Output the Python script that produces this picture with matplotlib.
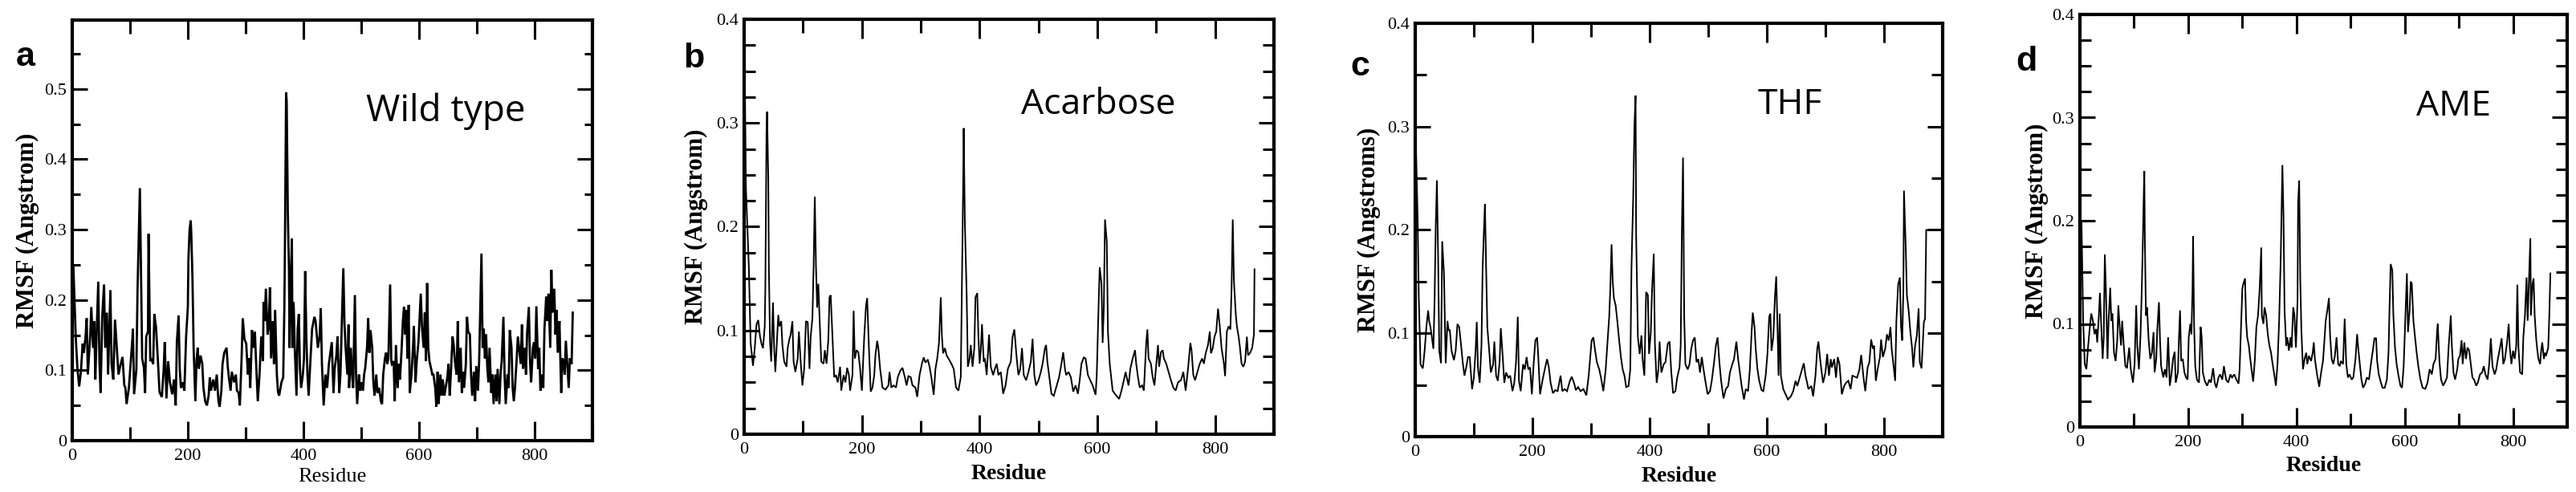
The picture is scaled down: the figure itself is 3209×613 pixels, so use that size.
import matplotlib
matplotlib.use("Agg")
import matplotlib.pyplot as plt
from matplotlib.ticker import MultipleLocator, FuncFormatter

plt.rcParams["font.family"] = "Liberation Serif"

W, H, DPI = 3209, 613, 100

# (residue, RMSF in Angstrom)
wild_type = [
    (2, 0.247), (6, 0.148), (9, 0.102), (12, 0.077), (15, 0.098), (18, 0.138), (20, 0.125),
    (23, 0.148), (25, 0.174), (27, 0.094), (31, 0.148), (33, 0.190), (36, 0.132), (38, 0.170),
    (40, 0.087), (42, 0.148), (45, 0.226), (47, 0.113), (49, 0.068), (52, 0.178), (55, 0.222),
    (57, 0.132), (60, 0.182), (62, 0.094), (66, 0.214), (68, 0.109), (71, 0.087), (74, 0.172),
    (77, 0.132), (80, 0.094), (83, 0.106), (87, 0.119), (90, 0.079), (92, 0.075), (94, 0.052),
    (98, 0.075), (101, 0.109), (104, 0.144), (105, 0.159), (107, 0.066), (111, 0.102),
    (113, 0.216), (115, 0.285), (117, 0.359), (119, 0.235), (121, 0.117), (124, 0.104),
    (126, 0.068), (128, 0.148), (131, 0.155), (132, 0.294), (135, 0.113), (137, 0.117),
    (140, 0.109), (142, 0.180), (145, 0.161), (148, 0.117), (151, 0.069), (155, 0.062),
    (158, 0.098), (160, 0.140), (163, 0.060), (166, 0.113), (169, 0.083), (173, 0.066),
    (176, 0.087), (179, 0.050), (181, 0.140), (184, 0.178), (186, 0.102), (188, 0.075),
    (191, 0.083), (194, 0.071), (197, 0.148), (200, 0.190), (201, 0.258), (203, 0.300),
    (205, 0.313), (206, 0.293), (208, 0.231), (210, 0.132), (213, 0.056), (215, 0.113),
    (217, 0.132), (219, 0.102), (222, 0.121), (225, 0.109), (227, 0.075), (230, 0.056),
    (233, 0.050), (236, 0.064), (238, 0.090), (240, 0.071), (244, 0.087), (247, 0.071),
    (250, 0.094), (253, 0.056), (255, 0.048), (258, 0.071), (260, 0.109), (263, 0.125),
    (267, 0.132), (269, 0.106), (271, 0.090), (274, 0.071), (276, 0.098), (280, 0.083),
    (283, 0.094), (285, 0.071), (288, 0.068), (290, 0.050), (293, 0.117), (295, 0.174),
    (298, 0.144), (301, 0.138), (304, 0.094), (306, 0.117), (308, 0.075), (311, 0.157),
    (313, 0.132), (316, 0.155), (318, 0.113), (321, 0.056), (324, 0.094), (327, 0.148),
    (330, 0.113), (331, 0.197), (333, 0.170), (335, 0.216), (338, 0.151), (340, 0.163),
    (342, 0.218), (344, 0.117), (347, 0.170), (349, 0.109), (351, 0.186), (354, 0.094),
    (356, 0.069), (358, 0.064), (362, 0.083), (365, 0.090), (367, 0.190), (368, 0.277),
    (369, 0.384), (370, 0.495), (371, 0.483), (373, 0.323), (375, 0.243), (376, 0.132),
    (378, 0.220), (380, 0.287), (381, 0.132), (383, 0.197), (385, 0.132), (388, 0.064),
    (390, 0.159), (392, 0.180), (394, 0.102), (396, 0.075), (399, 0.094), (401, 0.117),
    (403, 0.241), (405, 0.148), (407, 0.094), (409, 0.064), (412, 0.113), (415, 0.159),
    (419, 0.176), (421, 0.170), (423, 0.151), (425, 0.132), (428, 0.148), (430, 0.188),
    (432, 0.109), (435, 0.050), (438, 0.094), (441, 0.075), (444, 0.109),
    (449, 0.140), (452, 0.068), (454, 0.102), (457, 0.121), (459, 0.148), (462, 0.068),
    (464, 0.094), (466, 0.155), (469, 0.245), (471, 0.167), (473, 0.132), (476, 0.094),
    (478, 0.165), (479, 0.075), (482, 0.132), (484, 0.094), (486, 0.075), (489, 0.207),
    (491, 0.094), (493, 0.052), (496, 0.094), (498, 0.071), (500, 0.083), (503, 0.071),
    (505, 0.094), (507, 0.104), (510, 0.132), (512, 0.174), (514, 0.125), (516, 0.157),
    (519, 0.132), (521, 0.083), (523, 0.064), (526, 0.094), (528, 0.068), (531, 0.075),
    (534, 0.056), (536, 0.052), (538, 0.094), (541, 0.117), (543, 0.125), (545, 0.109),
    (547, 0.117), (550, 0.222), (552, 0.113), (553, 0.109), (556, 0.113), (558, 0.056),
    (560, 0.136), (563, 0.075), (565, 0.109), (567, 0.087), (570, 0.132), (572, 0.170),
    (574, 0.190), (576, 0.151), (578, 0.186), (580, 0.117), (582, 0.193), (584, 0.068),
    (587, 0.094), (590, 0.140), (591, 0.163), (594, 0.083), (596, 0.113), (599, 0.140),
    (601, 0.174), (603, 0.209), (605, 0.163), (608, 0.132), (610, 0.182), (612, 0.113),
    (614, 0.224), (616, 0.132), (618, 0.113), (621, 0.102), (623, 0.094), (625, 0.094),
    (628, 0.075), (630, 0.048), (632, 0.098), (634, 0.052), (637, 0.094), (639, 0.064),
    (641, 0.087), (644, 0.064), (646, 0.075), (649, 0.090), (651, 0.109), (653, 0.064),
    (655, 0.094), (658, 0.148), (660, 0.136), (662, 0.113), (665, 0.094), (667, 0.170),
    (669, 0.083), (672, 0.132), (674, 0.068), (676, 0.098), (678, 0.075), (681, 0.109),
    (683, 0.176), (685, 0.155), (688, 0.151), (690, 0.094), (692, 0.064), (695, 0.098),
    (697, 0.056), (699, 0.106), (702, 0.071), (704, 0.113), (706, 0.188), (708, 0.266),
    (710, 0.132), (712, 0.159), (714, 0.117), (716, 0.151), (718, 0.106), (720, 0.083),
    (722, 0.132), (725, 0.068), (727, 0.094), (729, 0.052), (732, 0.094), (734, 0.056),
    (736, 0.102), (739, 0.052), (741, 0.094), (743, 0.113), (746, 0.176), (748, 0.094),
    (750, 0.052), (753, 0.094), (755, 0.075), (757, 0.157), (760, 0.132), (762, 0.075),
    (764, 0.056), (766, 0.075), (769, 0.117), (771, 0.148), (773, 0.132), (776, 0.109),
    (778, 0.165), (780, 0.102), (783, 0.132), (785, 0.094), (787, 0.153), (790, 0.190),
    (792, 0.113), (794, 0.083), (797, 0.132), (799, 0.140), (801, 0.117), (803, 0.191),
    (806, 0.102), (808, 0.132), (810, 0.071), (813, 0.094), (815, 0.075), (817, 0.159),
    (820, 0.205), (822, 0.170), (824, 0.209), (827, 0.132), (829, 0.243), (831, 0.182),
    (834, 0.216), (836, 0.151), (838, 0.186), (840, 0.125), (843, 0.170), (844, 0.132),
    (846, 0.068), (848, 0.117), (850, 0.113), (852, 0.094), (854, 0.142), (857, 0.102),
    (859, 0.075), (861, 0.117), (864, 0.109), (866, 0.182),
]

acarbose = [
    (1, 0.350), (3, 0.238), (8, 0.161), (11, 0.088), (15, 0.066), (18, 0.083), (21, 0.106),
    (24, 0.110), (27, 0.094), (30, 0.086), (32, 0.083), (35, 0.104), (36, 0.140), (38, 0.292),
    (39, 0.311), (41, 0.246), (42, 0.161), (44, 0.088), (46, 0.070), (49, 0.127), (51, 0.083),
    (53, 0.060), (56, 0.094), (58, 0.115), (60, 0.104), (63, 0.109), (65, 0.086), (68, 0.070),
    (72, 0.065), (74, 0.083), (77, 0.092), (79, 0.096), (82, 0.109), (84, 0.070), (87, 0.060),
    (91, 0.073), (93, 0.099), (96, 0.070), (99, 0.047), (102, 0.063), (105, 0.109),
    (108, 0.108), (111, 0.063), (113, 0.094), (116, 0.112), (118, 0.161), (120, 0.229),
    (122, 0.163), (124, 0.122), (126, 0.145), (128, 0.114), (131, 0.070), (135, 0.068),
    (137, 0.081), (140, 0.068), (143, 0.091), (145, 0.132), (147, 0.134), (150, 0.094),
    (153, 0.055), (156, 0.057), (159, 0.050), (163, 0.065), (165, 0.042), (169, 0.057),
    (172, 0.050), (175, 0.064), (178, 0.057), (180, 0.042), (184, 0.057), (186, 0.119),
    (188, 0.073), (191, 0.081), (194, 0.079), (197, 0.063), (200, 0.042), (202, 0.068),
    (204, 0.094), (207, 0.124), (209, 0.131), (212, 0.083), (215, 0.041), (218, 0.045),
    (221, 0.057), (223, 0.076), (226, 0.090), (228, 0.083), (231, 0.063), (235, 0.045),
    (240, 0.043), (245, 0.047), (247, 0.060), (250, 0.045), (254, 0.047), (258, 0.045),
    (261, 0.055), (265, 0.061), (269, 0.064), (273, 0.055), (276, 0.047), (279, 0.056),
    (283, 0.055), (286, 0.047), (291, 0.045), (294, 0.036), (298, 0.057), (302, 0.068),
    (305, 0.074), (308, 0.069), (312, 0.072), (315, 0.065), (318, 0.055), (322, 0.038),
    (325, 0.063), (328, 0.073), (331, 0.088), (334, 0.132), (336, 0.094), (338, 0.078),
    (341, 0.083), (344, 0.076), (347, 0.073), (352, 0.068), (356, 0.063), (360, 0.045),
    (364, 0.042), (368, 0.055), (370, 0.148), (372, 0.238), (373, 0.295), (375, 0.202),
    (378, 0.135), (380, 0.065), (383, 0.073), (385, 0.086), (388, 0.065), (391, 0.083),
    (393, 0.132), (396, 0.136), (398, 0.094), (400, 0.068), (402, 0.081), (404, 0.106),
    (407, 0.070), (409, 0.073), (412, 0.057), (416, 0.096), (419, 0.065), (423, 0.057),
    (426, 0.063), (429, 0.068), (432, 0.057), (436, 0.060), (440, 0.039), (444, 0.047),
    (448, 0.063), (453, 0.070), (456, 0.094), (459, 0.101), (463, 0.073), (466, 0.057),
    (469, 0.063), (472, 0.083), (475, 0.057), (479, 0.052), (483, 0.060), (487, 0.070),
    (490, 0.092), (493, 0.057), (496, 0.047), (500, 0.052), (504, 0.060), (507, 0.068),
    (511, 0.083), (513, 0.086), (515, 0.070), (518, 0.057), (522, 0.039), (526, 0.037),
    (531, 0.047), (535, 0.055), (539, 0.068), (542, 0.079), (545, 0.063), (547, 0.057),
    (551, 0.060), (555, 0.055), (559, 0.041), (563, 0.047), (567, 0.039), (570, 0.052),
    (573, 0.068), (577, 0.074), (580, 0.073), (584, 0.057), (588, 0.052), (592, 0.047),
    (597, 0.038), (599, 0.057), (602, 0.122), (604, 0.161), (607, 0.145), (609, 0.088),
    (611, 0.122), (613, 0.207), (616, 0.186), (618, 0.099), (621, 0.068), (626, 0.042),
    (631, 0.038), (637, 0.034), (641, 0.042), (645, 0.052), (648, 0.060), (653, 0.047),
    (656, 0.063), (660, 0.073), (664, 0.081), (666, 0.068), (669, 0.055), (672, 0.045),
    (676, 0.047), (679, 0.042), (683, 0.088), (685, 0.101), (687, 0.073), (691, 0.068),
    (694, 0.055), (697, 0.047), (701, 0.073), (703, 0.086), (705, 0.065), (708, 0.079),
    (711, 0.081), (713, 0.073), (717, 0.068), (721, 0.060), (725, 0.052), (729, 0.045),
    (733, 0.042), (737, 0.050), (742, 0.052), (746, 0.060), (750, 0.042), (754, 0.063),
    (758, 0.088), (760, 0.081), (763, 0.057), (766, 0.052), (770, 0.060), (774, 0.068),
    (778, 0.073), (781, 0.068), (784, 0.078), (788, 0.086), (791, 0.099), (793, 0.078),
    (796, 0.083), (799, 0.094), (802, 0.099), (805, 0.121), (808, 0.104), (811, 0.083),
    (815, 0.068), (817, 0.056), (820, 0.099), (823, 0.104), (826, 0.101), (828, 0.140),
    (830, 0.207), (832, 0.148), (835, 0.117), (837, 0.104), (840, 0.094), (842, 0.085),
    (845, 0.068), (848, 0.065), (851, 0.070), (854, 0.094), (856, 0.076), (859, 0.078),
    (863, 0.083), (866, 0.096), (867, 0.159),
]

thf = [
    (1, 0.285), (4, 0.215), (6, 0.137), (9, 0.070), (13, 0.066), (16, 0.083), (19, 0.106),
    (22, 0.122), (24, 0.111), (26, 0.106), (28, 0.098), (31, 0.085), (33, 0.132), (35, 0.204),
    (37, 0.248), (39, 0.176), (41, 0.083), (44, 0.071), (46, 0.189), (49, 0.158), (52, 0.071),
    (55, 0.112), (57, 0.103), (59, 0.103), (62, 0.083), (66, 0.074), (69, 0.083), (72, 0.109),
    (75, 0.106), (78, 0.090), (81, 0.072), (84, 0.059), (87, 0.067), (90, 0.077), (93, 0.077),
    (97, 0.046), (100, 0.057), (103, 0.083), (105, 0.111), (107, 0.067), (110, 0.052),
    (113, 0.088), (115, 0.163), (118, 0.212), (119, 0.225), (121, 0.163), (123, 0.106),
    (126, 0.085), (129, 0.062), (133, 0.070), (135, 0.092), (138, 0.059), (141, 0.054),
    (144, 0.072), (146, 0.105), (149, 0.080), (152, 0.052), (155, 0.062), (159, 0.057),
    (162, 0.059), (166, 0.044), (169, 0.052), (172, 0.072), (175, 0.116), (177, 0.054),
    (180, 0.044), (184, 0.070), (187, 0.065), (190, 0.077), (193, 0.065), (196, 0.067),
    (199, 0.041), (202, 0.070), (205, 0.093), (208, 0.096), (210, 0.077), (213, 0.041),
    (217, 0.054), (221, 0.065), (225, 0.075), (228, 0.067), (231, 0.052), (235, 0.042),
    (239, 0.045), (243, 0.044), (248, 0.059), (251, 0.044), (255, 0.046), (259, 0.044),
    (264, 0.054), (267, 0.058), (271, 0.052), (274, 0.045), (278, 0.048), (282, 0.044),
    (287, 0.046), (292, 0.040), (296, 0.059), (299, 0.080), (301, 0.093), (304, 0.096),
    (307, 0.083), (310, 0.072), (314, 0.065), (317, 0.057), (321, 0.044), (325, 0.065),
    (328, 0.090), (331, 0.116), (333, 0.145), (335, 0.186), (337, 0.150), (339, 0.134),
    (342, 0.127), (345, 0.111), (348, 0.093), (351, 0.077), (354, 0.065), (357, 0.059),
    (360, 0.048), (364, 0.049), (367, 0.065), (369, 0.163), (372, 0.233), (374, 0.300),
    (376, 0.330), (377, 0.194), (380, 0.096), (383, 0.080), (386, 0.098), (388, 0.075),
    (391, 0.059), (394, 0.140), (397, 0.137), (399, 0.080), (402, 0.101), (404, 0.140),
    (407, 0.177), (409, 0.090), (412, 0.052), (415, 0.065), (417, 0.092), (420, 0.062),
    (424, 0.070), (427, 0.072), (431, 0.090), (434, 0.092), (437, 0.062), (440, 0.042),
    (444, 0.044), (447, 0.057), (451, 0.067), (453, 0.088), (455, 0.199), (457, 0.270),
    (459, 0.116), (461, 0.070), (465, 0.065), (468, 0.070), (471, 0.085), (474, 0.093),
    (477, 0.096), (480, 0.072), (483, 0.075), (486, 0.062), (489, 0.077), (492, 0.065),
    (495, 0.054), (499, 0.041), (503, 0.044), (506, 0.054), (510, 0.072), (513, 0.088),
    (516, 0.096), (519, 0.072), (522, 0.054), (526, 0.037), (530, 0.046), (534, 0.049),
    (537, 0.062), (541, 0.070), (544, 0.075), (548, 0.092), (551, 0.075), (554, 0.062),
    (557, 0.049), (561, 0.036), (564, 0.046), (568, 0.044), (571, 0.065), (574, 0.101),
    (576, 0.120), (579, 0.106), (581, 0.085), (584, 0.065), (587, 0.054), (591, 0.045),
    (594, 0.044), (598, 0.059), (601, 0.080), (604, 0.116), (606, 0.119), (608, 0.083),
    (611, 0.096), (614, 0.137), (616, 0.155), (618, 0.111), (620, 0.059), (622, 0.119),
    (624, 0.059), (628, 0.046), (632, 0.041), (636, 0.036), (641, 0.039), (645, 0.044),
    (649, 0.054), (652, 0.049), (656, 0.057), (660, 0.065), (663, 0.071), (666, 0.059),
    (668, 0.054), (671, 0.046), (676, 0.049), (679, 0.039), (683, 0.059), (686, 0.085),
    (688, 0.092), (691, 0.075), (693, 0.065), (696, 0.052), (700, 0.062), (703, 0.080),
    (706, 0.059), (709, 0.075), (711, 0.067), (715, 0.075), (718, 0.057), (721, 0.077),
    (724, 0.070), (728, 0.041), (732, 0.049), (735, 0.052), (739, 0.054), (743, 0.046),
    (746, 0.059), (750, 0.058), (754, 0.057), (758, 0.065), (761, 0.079), (765, 0.057),
    (768, 0.044), (772, 0.067), (775, 0.072), (778, 0.094), (781, 0.085), (783, 0.088),
    (786, 0.054), (789, 0.065), (793, 0.077), (795, 0.094), (798, 0.077), (802, 0.085),
    (805, 0.099), (808, 0.093), (811, 0.106), (813, 0.085), (816, 0.070), (819, 0.054),
    (821, 0.111), (824, 0.147), (827, 0.154), (829, 0.106), (831, 0.093), (833, 0.142),
    (834, 0.238), (837, 0.184), (839, 0.137), (842, 0.122), (845, 0.101), (848, 0.085),
    (850, 0.067), (853, 0.088), (856, 0.098), (859, 0.124), (861, 0.072), (864, 0.066),
    (868, 0.111), (870, 0.114), (872, 0.200), (900, 0.200),
]

ame = [
    (3, 0.198), (6, 0.103), (9, 0.061), (12, 0.056), (15, 0.077), (18, 0.095), (21, 0.110),
    (24, 0.103), (27, 0.090), (30, 0.095), (32, 0.082), (35, 0.108), (37, 0.130), (39, 0.103),
    (42, 0.066), (44, 0.087), (46, 0.167), (48, 0.134), (51, 0.066), (53, 0.103), (56, 0.135),
    (58, 0.103), (60, 0.110), (63, 0.072), (66, 0.064), (69, 0.084), (71, 0.118), (74, 0.092),
    (76, 0.079), (78, 0.103), (81, 0.079), (84, 0.059), (87, 0.057), (91, 0.077), (94, 0.056),
    (98, 0.043), (101, 0.061), (104, 0.118), (106, 0.079), (109, 0.056), (112, 0.090),
    (114, 0.128), (116, 0.173), (118, 0.227), (119, 0.248), (120, 0.180), (122, 0.108),
    (124, 0.116), (127, 0.084), (130, 0.066), (133, 0.072), (136, 0.092), (138, 0.053),
    (141, 0.066), (143, 0.095), (146, 0.121), (148, 0.084), (150, 0.059), (154, 0.048),
    (157, 0.056), (160, 0.048), (163, 0.087), (166, 0.040), (169, 0.051), (172, 0.066),
    (175, 0.073), (177, 0.043), (181, 0.053), (183, 0.087), (185, 0.113), (187, 0.064),
    (190, 0.066), (193, 0.053), (196, 0.048), (199, 0.046), (201, 0.087), (204, 0.100),
    (206, 0.090), (208, 0.134), (209, 0.185), (211, 0.097), (213, 0.059), (216, 0.046),
    (220, 0.043), (223, 0.097), (225, 0.087), (227, 0.053), (231, 0.044), (235, 0.040),
    (239, 0.046), (242, 0.043), (246, 0.057), (249, 0.043), (252, 0.038), (256, 0.048),
    (259, 0.051), (263, 0.046), (266, 0.059), (270, 0.046), (274, 0.043), (278, 0.051),
    (281, 0.048), (285, 0.051), (289, 0.046), (293, 0.042), (295, 0.056), (298, 0.103),
    (300, 0.134), (302, 0.139), (305, 0.144), (307, 0.103), (309, 0.087), (312, 0.079),
    (314, 0.069), (317, 0.056), (320, 0.044), (323, 0.064), (326, 0.097), (329, 0.108),
    (332, 0.134), (335, 0.174), (336, 0.108), (339, 0.100), (341, 0.116), (344, 0.108),
    (347, 0.090), (350, 0.079), (353, 0.072), (356, 0.061), (359, 0.051), (362, 0.040),
    (365, 0.061), (368, 0.103), (371, 0.165), (373, 0.224), (374, 0.254), (376, 0.206),
    (378, 0.113), (381, 0.079), (383, 0.087), (386, 0.074), (389, 0.087), (391, 0.077),
    (394, 0.116), (396, 0.110), (399, 0.077), (402, 0.123), (403, 0.217), (405, 0.239),
    (407, 0.144), (409, 0.095), (412, 0.056), (415, 0.066), (418, 0.072), (420, 0.061),
    (423, 0.069), (427, 0.064), (430, 0.072), (432, 0.082), (434, 0.066), (438, 0.051),
    (442, 0.039), (445, 0.051), (449, 0.064), (451, 0.079), (454, 0.103), (457, 0.113),
    (460, 0.125), (462, 0.090), (465, 0.066), (468, 0.061), (471, 0.069), (474, 0.087),
    (477, 0.061), (480, 0.059), (482, 0.064), (486, 0.061), (489, 0.105), (492, 0.061),
    (495, 0.048), (498, 0.051), (502, 0.046), (505, 0.048), (509, 0.066), (512, 0.090),
    (514, 0.077), (517, 0.061), (520, 0.046), (523, 0.038), (527, 0.042), (530, 0.048),
    (534, 0.046), (537, 0.059), (541, 0.074), (544, 0.086), (547, 0.086), (549, 0.064),
    (552, 0.051), (556, 0.043), (559, 0.038), (563, 0.038), (567, 0.046), (570, 0.072),
    (572, 0.118), (574, 0.158), (577, 0.152), (579, 0.108), (582, 0.077), (585, 0.061),
    (588, 0.051), (592, 0.040), (595, 0.038), (598, 0.059), (601, 0.105), (604, 0.149),
    (606, 0.092), (609, 0.113), (611, 0.141), (613, 0.139), (616, 0.103), (619, 0.087),
    (622, 0.072), (625, 0.059), (629, 0.046), (633, 0.038), (638, 0.037), (642, 0.043),
    (646, 0.056), (650, 0.051), (653, 0.061), (657, 0.066), (660, 0.095), (661, 0.100),
    (664, 0.064), (667, 0.046), (671, 0.040), (674, 0.043), (678, 0.048), (681, 0.077),
    (685, 0.108), (687, 0.079), (690, 0.053), (693, 0.046), (697, 0.056), (699, 0.066),
    (702, 0.069), (705, 0.084), (707, 0.061), (710, 0.082), (713, 0.066), (716, 0.077),
    (719, 0.074), (722, 0.061), (725, 0.048), (728, 0.046), (732, 0.040), (735, 0.043),
    (739, 0.051), (743, 0.053), (746, 0.059), (749, 0.051), (753, 0.046), (756, 0.061),
    (759, 0.086), (762, 0.059), (766, 0.051), (769, 0.056), (772, 0.066), (776, 0.077),
    (779, 0.086), (782, 0.061), (785, 0.066), (789, 0.082), (792, 0.100), (794, 0.077),
    (797, 0.061), (800, 0.074), (803, 0.066), (806, 0.079), (808, 0.138), (810, 0.077),
    (813, 0.053), (817, 0.051), (819, 0.087), (822, 0.108), (825, 0.145), (827, 0.103),
    (829, 0.134), (832, 0.183), (833, 0.108), (836, 0.139), (838, 0.144), (840, 0.108),
    (843, 0.084), (845, 0.074), (847, 0.066), (850, 0.061), (852, 0.074), (854, 0.082),
    (857, 0.066), (859, 0.072), (861, 0.069), (865, 0.077), (867, 0.108), (869, 0.149),
]

letters = ["a", "b", "c", "d"]
names = ["Wild type", "Acarbose", "THF", "AME"]
ylabels = ["RMSF (Angstrom)", "RMSF (Angstrom)", "RMSF (Angstroms)", "RMSF (Angstrom)"]
series = [wild_type, acarbose, thf, ame]
y_max = [0.598, 0.4, 0.4, 0.4]   # panel a stops just short of 0.6 (no label there)
y_minor = [0.05, 0.025, 0.05, 0.025]

# layout in pixels: axes box (left, top, right, bottom), letter / name anchor points
BOXES = [(90, 25, 738, 549), (927, 24, 1587, 541), (1763, 29, 2420, 544), (2591, 18, 3198, 532)]
LETTER_XY = [(20, 82), (851, 84), (1682, 94), (2511, 88)]
NAME_XY = [(456, 151), (1272, 142), (2190, 142), (3010, 144)]
NAME_SIZE = [33, 32, 32, 32]
YLABEL_RIGHT = [49, 882, 1720, 2552]
XLABEL_TOP = [583, 578, 581, 568]


def draw_panel(fig, i):
    left, top, right, bottom = BOXES[i]
    ax = fig.add_axes([left / W, 1 - bottom / H, (right - left) / W, (bottom - top) / H])
    res = [p[0] for p in series[i]]
    val = [p[1] for p in series[i]]
    ax.plot(res, val, color="black", lw=2.0 if i == 0 else 1.4, solid_joinstyle="miter")

    ax.set_xlim(0, 900)
    ax.set_ylim(0, y_max[i])
    ax.xaxis.set_major_locator(MultipleLocator(200))
    ax.xaxis.set_minor_locator(MultipleLocator(100))
    ax.yaxis.set_major_locator(MultipleLocator(0.1))
    ax.yaxis.set_minor_locator(MultipleLocator(y_minor[i]))
    ax.xaxis.set_major_formatter(FuncFormatter(lambda v, p: f"{v:.0f}"))
    ax.yaxis.set_major_formatter(FuncFormatter(lambda v, p: "0" if abs(v) < 1e-9 else f"{v:.1f}"))

    for s in ax.spines.values():
        s.set_linewidth(3)
    ax.tick_params(which="both", direction="in", top=True, right=True, width=2.2, labelsize=16)
    ax.tick_params(axis="x", which="major", length=17, pad=7)
    ax.tick_params(axis="x", which="minor", length=12)
    ax.tick_params(axis="y", which="major", length=14, pad=5)
    ax.tick_params(axis="y", which="minor", length=7 if i == 0 else 10)

    ax.set_ylabel(ylabels[i], fontsize=22, fontweight="bold")
    ax.yaxis.set_label_coords((YLABEL_RIGHT[i] - left) / (right - left), 0.5)
    ax.set_xlabel("Residue", fontsize=19 if i == 0 else 20,
                  fontweight="normal" if i == 0 else "bold")
    ax.xaxis.set_label_coords(0.5, (bottom - XLABEL_TOP[i]) / (bottom - top))

    lx, ly = LETTER_XY[i]
    fig.text(lx / W, 1 - ly / H, letters[i], fontsize=31, fontweight="bold",
             family="Liberation Sans", va="baseline", ha="left")
    nx, ny = NAME_XY[i]
    fig.text(nx / W, 1 - ny / H, names[i], fontsize=NAME_SIZE[i],
             family="Open Sans", va="baseline", ha="left")


def main():
    fig = plt.figure(figsize=(W / DPI, H / DPI), dpi=DPI)
    for i in range(4):
        draw_panel(fig, i)
    fig.savefig("out.png", dpi=DPI)
    plt.close(fig)


if __name__ == "__main__":
    main()
